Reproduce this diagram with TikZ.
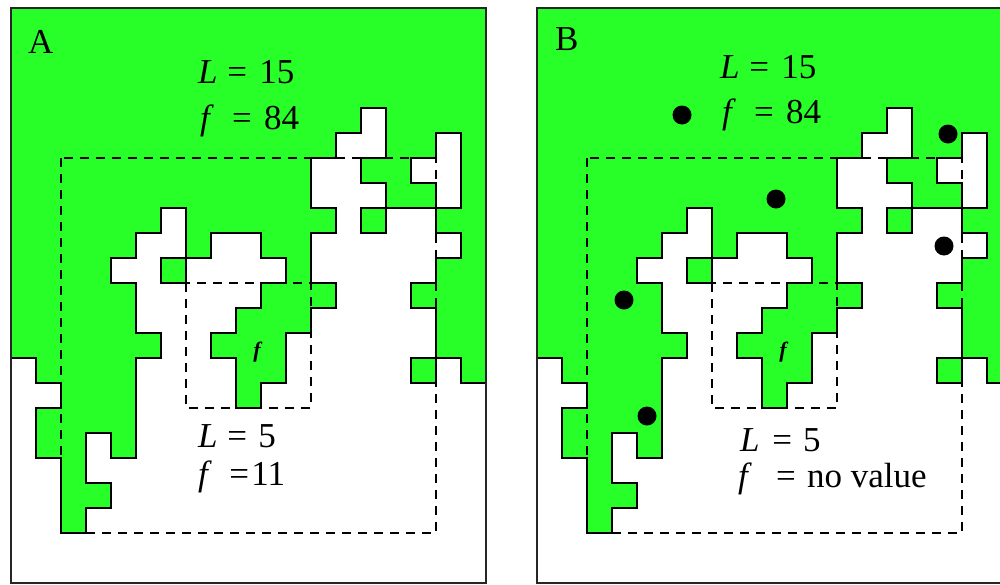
\documentclass[tikz,border=0pt]{standalone}
\usepackage{fontspec}
\setmainfont{Liberation Serif}
\definecolor{grn}{RGB}{40,255,40}
\tikzset{
  edge/.style={line width=2pt, line cap=rect, black},
  dbox/.style={line width=1.8pt, dash pattern=on 9pt off 7pt, black},
  frame/.style={line width=1.6pt, black!85},
  lbl/.style={anchor=base west, inner sep=0pt, font=\fontsize{35}{40}\selectfont},
  flbl/.style={inner sep=0pt, font=\fontsize{22}{26}\selectfont\bfseries\itshape},
  dot/.style={fill=black}
}
% grid data: 23 rows x 19 columns, 1 = green
\foreach \rowdata [count=\r from 0] in {
 {1,1,1,1,1,1,1,1,1,1,1,1,1,1,1,1,1,1,1},
 {1,1,1,1,1,1,1,1,1,1,1,1,1,1,1,1,1,1,1},
 {1,1,1,1,1,1,1,1,1,1,1,1,1,1,1,1,1,1,1},
 {1,1,1,1,1,1,1,1,1,1,1,1,1,1,1,1,1,1,1},
 {1,1,1,1,1,1,1,1,1,1,1,1,1,1,0,1,1,1,1},
 {1,1,1,1,1,1,1,1,1,1,1,1,1,0,0,1,1,0,1},
 {1,1,1,1,1,1,1,1,1,1,1,1,0,0,1,1,0,0,1},
 {1,1,1,1,1,1,1,1,1,1,1,1,0,0,0,1,1,0,1},
 {1,1,1,1,1,1,0,1,1,1,1,1,1,0,1,0,0,1,1},
 {1,1,1,1,1,0,0,1,0,0,1,1,0,0,0,0,0,0,1},
 {1,1,1,1,0,0,1,0,0,0,0,1,0,0,0,0,0,1,1},
 {1,1,1,1,1,0,0,0,0,0,1,1,1,0,0,0,1,1,1},
 {1,1,1,1,1,0,0,0,0,1,1,1,0,0,0,0,0,1,1},
 {1,1,1,1,1,1,0,0,1,1,1,0,0,0,0,0,0,1,1},
 {0,1,1,1,1,0,0,0,0,1,1,0,0,0,0,0,1,0,1},
 {0,0,1,1,1,0,0,0,0,1,0,0,0,0,0,0,0,0,0},
 {0,1,1,1,1,0,0,0,0,0,0,0,0,0,0,0,0,0,0},
 {0,1,1,0,1,0,0,0,0,0,0,0,0,0,0,0,0,0,0},
 {0,0,1,0,0,0,0,0,0,0,0,0,0,0,0,0,0,0,0},
 {0,0,1,1,0,0,0,0,0,0,0,0,0,0,0,0,0,0,0},
 {0,0,1,0,0,0,0,0,0,0,0,0,0,0,0,0,0,0,0},
 {0,0,0,0,0,0,0,0,0,0,0,0,0,0,0,0,0,0,0},
 {0,0,0,0,0,0,0,0,0,0,0,0,0,0,0,0,0,0,0}}{%
  \foreach \v [count=\c from 0] in \rowdata {%
    \expandafter\xdef\csname g-\r-\c\endcsname{\v}%
  }%
}
\newcommand\panelgrid{%
  \fill[white] (0,0) rectangle (475,575);
  \foreach \r in {0,...,22}{\foreach \c in {0,...,18}{%
    \ifnum\csname g-\r-\c\endcsname=1\relax
      \fill[grn] ({\c*25-0.4},{\r*25-0.4}) rectangle ++(25.8,25.8);
    \fi}}
  \foreach \r in {0,...,22}{\foreach \c in {0,...,18}{%
    \pgfmathtruncatemacro\cn{\c+1}%
    \pgfmathtruncatemacro\rn{\r+1}%
    \ifnum\c<18\relax
      \ifnum\csname g-\r-\c\endcsname=\csname g-\r-\cn\endcsname\relax\else
        \draw[edge] (\cn*25,\r*25) -- ++(0,25);
      \fi
    \fi
    \ifnum\r<22\relax
      \ifnum\csname g-\r-\c\endcsname=\csname g-\rn-\c\endcsname\relax\else
        \draw[edge] (\c*25,\rn*25) -- ++(25,0);
      \fi
    \fi}}
  \draw[dbox] (50,150) rectangle (425,525);
  \draw[dbox] (175,275) rectangle (300,400);
  \draw[frame] (0,0) rectangle (475,575);
}
\begin{document}
\begin{tikzpicture}[x=1pt,y=-1pt]
\useasboundingbox (0,0) rectangle (1000,584);
\fill[white] (0,0) rectangle (1000,584);
\begin{scope}
\clip (0,0) rectangle (1000,584);
\begin{scope}[shift={(11,8)}]
  \panelgrid
\end{scope}
\begin{scope}[shift={(537,8)}]
  \panelgrid
\end{scope}
\end{scope}
% panel A labels
\node[lbl] (tA) at (28,53) {A};
\node[lbl] (tAL) at (198,83) {\textit{L}\hspace{.28em}=\hspace{.35em}15};
\node[lbl] (tAf) at (200,129) {\textit{f}\hspace{.52em}=\hspace{.35em}84};
\node[lbl] (tAL5) at (198,447) {\textit{L}\hspace{.28em}=\hspace{.32em}5};
\node[lbl] (tAf11) at (198,485) {\textit{f}\hspace{.5em}=\hspace{.06em}11};
\node[flbl] (tAfi) at (257,352) {f};
% panel B labels
\node[lbl] (tB) at (555,50) {B};
\node[lbl] (tBL) at (720,78) {\textit{L}\hspace{.28em}=\hspace{.35em}15};
\node[lbl] (tBf) at (722,123) {\textit{f}\hspace{.52em}=\hspace{.35em}84};
\node[lbl] (tBL5) at (740,451) {\textit{L}\hspace{.36em}=\hspace{.32em}5};
\node[lbl] (tBfn) at (738,487) {\textit{f}\hspace{.69em}=\hspace{.32em}no value};
\node[flbl] (tBfi) at (783,352) {f};
% dots in panel B
\fill[dot] (682,115) circle (9.5);
\fill[dot] (776,199) circle (9.5);
\fill[dot] (948,134) circle (9.5);
\fill[dot] (944,246) circle (9.5);
\fill[dot] (624,300) circle (9.5);
\fill[dot] (647,416) circle (9.5);
\end{tikzpicture}
\end{document}
